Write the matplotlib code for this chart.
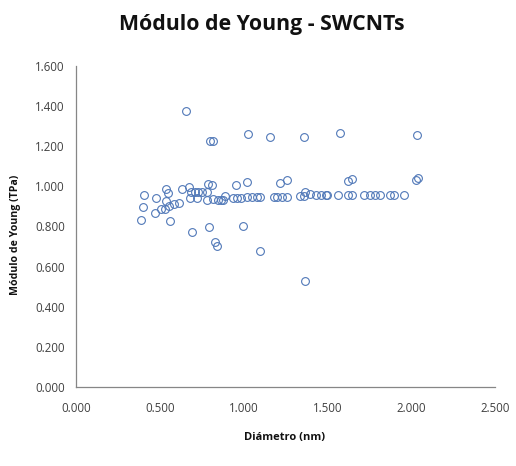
import matplotlib.pyplot as plt
from matplotlib.ticker import FormatStrFormatter

# Diameter (nm) and Young's modulus (TPa)
diametro = [
    0.66, 0.80, 0.82, 1.03, 1.16, 1.36, 1.575, 2.035,
    0.83, 0.845, 1.10, 1.37,
    0.406, 0.40, 0.39, 0.476, 0.47, 0.507, 0.54, 0.55, 0.535, 0.53, 0.557,
    0.587, 0.617, 0.56, 0.634, 0.676, 0.69, 0.71, 0.73, 0.75, 0.68, 0.72,
    0.786, 0.813, 0.78, 0.78, 0.82, 0.85, 0.88, 0.696, 0.794,
    0.953, 1.022, 0.889, 0.869, 0.94, 0.96, 0.985, 1.02, 1.05, 1.08, 1.10,
    1.18, 1.20, 1.23, 1.26, 1.217, 1.257, 1.34, 1.37, 1.36, 1.40, 1.43,
    0.998,
    1.46, 1.49, 1.50, 1.565, 1.625, 1.645, 1.625, 1.65,
    1.72, 1.755, 1.785, 1.815, 1.875, 1.90, 1.96, 2.03, 2.04,
]
modulo = [
    1.375, 1.225, 1.225, 1.26, 1.245, 1.245, 1.265, 1.257,
    0.723, 0.703, 0.677, 0.527,
    0.959, 0.897, 0.83, 0.942, 0.869, 0.886, 0.989, 0.969, 0.925, 0.889, 0.902,
    0.914, 0.919, 0.826, 0.985, 0.997, 0.972, 0.972, 0.972, 0.972, 0.942, 0.942,
    1.01, 1.005, 0.972, 0.93, 0.935, 0.932, 0.93, 0.773, 0.798,
    1.008, 1.021, 0.95, 0.93, 0.944, 0.944, 0.944, 0.945, 0.946, 0.947, 0.945,
    0.945, 0.946, 0.946, 0.945, 1.018, 1.03, 0.95, 0.97, 0.95, 0.96, 0.955,
    0.803,
    0.959, 0.959, 0.959, 0.959, 0.959, 0.959, 1.026, 1.035,
    0.959, 0.959, 0.959, 0.959, 0.959, 0.959, 0.959, 1.032, 1.04,
]

FONT = ["Open Sans", "DejaVu Sans"]

fig = plt.figure(figsize=(5.16, 4.66), dpi=100)
ax = fig.add_axes([0.147, 0.1695, 0.812, 0.689])

ax.plot(diametro, modulo, linestyle="none", marker="o", markersize=5.6,
        markerfacecolor="none", markeredgecolor="#5078b8", markeredgewidth=0.8)

ax.set_xlim(0, 2.5)
ax.set_ylim(0, 1.6)
ax.set_xticks([0, 0.5, 1.0, 1.5, 2.0, 2.5])
ax.set_yticks([0, 0.2, 0.4, 0.6, 0.8, 1.0, 1.2, 1.4, 1.6])
ax.xaxis.set_major_formatter(FormatStrFormatter("%.3f"))
ax.yaxis.set_major_formatter(FormatStrFormatter("%.3f"))

for side in ("top", "right"):
    ax.spines[side].set_visible(False)
for side in ("left", "bottom"):
    ax.spines[side].set_color("#868686")
    ax.spines[side].set_linewidth(0.9)

ax.tick_params(length=0, labelsize=8.3, labelcolor="#404040")
ax.tick_params(axis="x", pad=11)
ax.tick_params(axis="y", pad=8)
for lbl in ax.get_xticklabels() + ax.get_yticklabels():
    lbl.set_family(FONT)

fig.text(0.507, 0.948, "Módulo de Young - SWCNTs", ha="center", va="center",
         fontsize=15.3, fontweight="bold", family=FONT, color="#111111")
fig.text(0.552, 0.062, "Diámetro (nm)", ha="center", va="center",
         fontsize=8, fontweight="bold", family=FONT, color="#111111")
fig.text(0.031, 0.495, "Módulo de Young (TPa)", ha="center", va="center",
         rotation=90, fontsize=7.6, fontweight="bold", family=FONT,
         color="#111111")

fig.savefig("out.png", dpi=100)
